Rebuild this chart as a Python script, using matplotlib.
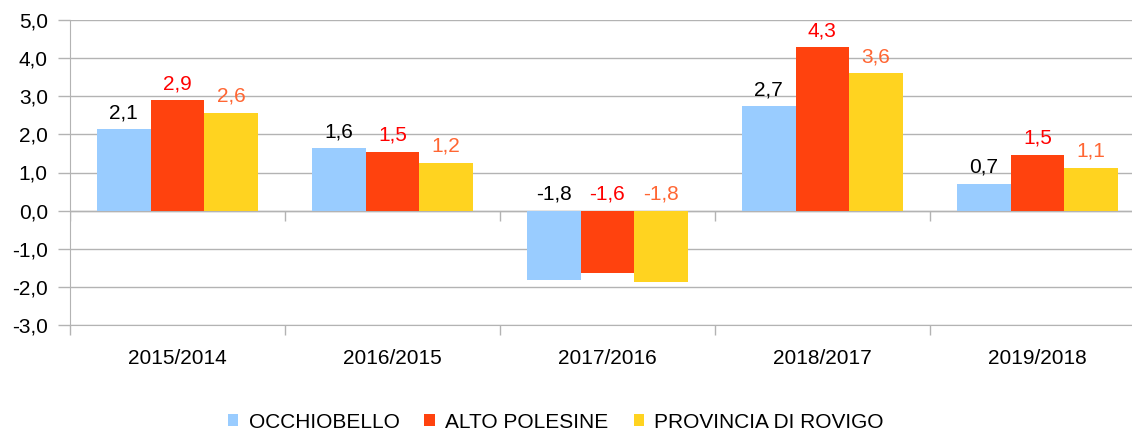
import numpy as np
import matplotlib.pyplot as plt
from matplotlib.ticker import FuncFormatter, FixedLocator

plt.rcParams["font.family"] = ["Liberation Sans", "DejaVu Sans"]

periods = ["2015/2014", "2016/2015", "2017/2016", "2018/2017", "2019/2018"]
series_names = ["OCCHIOBELLO", "ALTO POLESINE", "PROVINCIA DI ROVIGO"]
occhiobello = [2.13, 1.63, -1.81, 2.74, 0.71]
alto_polesine = [2.89, 1.55, -1.63, 4.28, 1.47]
rovigo = [2.57, 1.26, -1.86, 3.60, 1.13]
occhiobello_lbl = ["2,1", "1,6", "-1,8", "2,7", "0,7"]
alto_polesine_lbl = ["2,9", "1,5", "-1,6", "4,3", "1,5"]
rovigo_lbl = ["2,6", "1,2", "-1,8", "3,6", "1,1"]

BAR_COLORS = ["#99ccff", "#ff420e", "#ffd320"]
LABEL_COLORS = ["#000000", "#ff0000", "#ff6633"]
GRID = "#b3b3b3"
WIDTH = 0.25
FS = 15

fig = plt.figure(figsize=(11.32, 4.34), dpi=100)
ax = fig.add_axes([70 / 1132, 1 - 325 / 434, 1 - 70 / 1132, 305 / 434])

x = np.arange(len(periods))
all_vals = [occhiobello, alto_polesine, rovigo]
all_lbls = [occhiobello_lbl, alto_polesine_lbl, rovigo_lbl]
for k, (vals, lbls) in enumerate(zip(all_vals, all_lbls)):
    xs = x + (k - 1) * WIDTH
    ax.bar(xs, vals, width=WIDTH, color=BAR_COLORS[k], label=series_names[k], zorder=3)
    for xi, v, t in zip(xs, vals, lbls):
        ax.annotate(t, (xi, max(v, 0)), xytext=(0, 5), textcoords="offset points",
                    ha="center", va="bottom", fontsize=FS, color=LABEL_COLORS[k])

ax.set_ylim(-3, 5)
ax.set_xlim(-0.5, 4.44)
ax.yaxis.set_major_locator(plt.MultipleLocator(1))
ax.yaxis.set_major_formatter(FuncFormatter(lambda v, p: f"{v:.1f}".replace(".", ",")))
ax.grid(axis="y", color=GRID, linewidth=1, zorder=0)
ax.set_axisbelow(True)

# category separators at the bottom, labels at the centres
ax.xaxis.set_major_locator(FixedLocator(np.arange(len(periods) + 1) - 0.5))
ax.xaxis.set_major_formatter(plt.NullFormatter())
ax.set_xticks(x, periods, minor=True)
ax.tick_params(axis="x", which="major", length=7.5, color=GRID, width=1)
ax.tick_params(axis="x", which="minor", length=0, pad=17, labelsize=FS)
ax.tick_params(axis="y", length=9, color=GRID, width=1, labelsize=FS, pad=7)

# separators on the zero line too
ax.vlines(np.arange(len(periods) + 1) - 0.5, -0.28, 0, color=GRID, linewidth=1, zorder=1)
ax.axhline(0, color=GRID, linewidth=1, zorder=1)

for s in ["top", "right"]:
    ax.spines[s].set_visible(False)
ax.spines["left"].set_color(GRID)
ax.spines["bottom"].set_color(GRID)

fig.legend(loc="center", bbox_to_anchor=(0.491, 12 / 434), ncol=3, frameon=False,
           fontsize=FS, handlelength=0.5, handleheight=0.5, handletextpad=0.5,
           columnspacing=1.2, borderaxespad=0, borderpad=0)

fig.savefig("out.png", dpi=100)
